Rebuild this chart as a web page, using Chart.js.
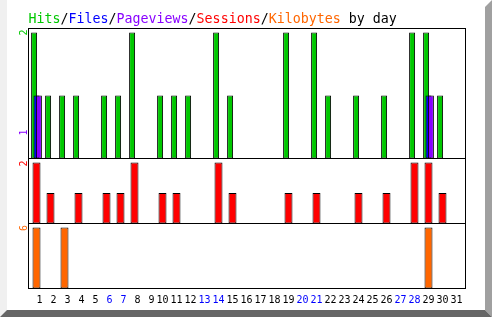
<!DOCTYPE html>
<html>
<head>
<meta charset="utf-8">
<script src="https://cdn.jsdelivr.net/npm/chart.js@4.4.1/dist/chart.umd.min.js"></script>
<style>
  html, body { margin: 0; padding: 0; background: #fff; }
  canvas { display: block; }
</style>
</head>
<body>
<canvas id="chart" width="492" height="317"></canvas>
<script>
const days = ['1','2','3','4','5','6','7','8','9','10','11','12','13','14','15','16',
              '17','18','19','20','21','22','23','24','25','26','27','28','29','30','31'];
const weekendDays = ['6','7','13','14','20','21','27','28'];

const hits      = [2,1,1,1,0,1,1,2,0,1,1,1,0,2,1,0,0,0,2,0,2,1,0,1,0,1,0,2,2,1,0];
const files     = [1,0,0,0,0,0,0,0,0,0,0,0,0,0,0,0,0,0,0,0,0,0,0,0,0,0,0,0,1,0,0];
const pageviews = [1,0,0,0,0,0,0,0,0,0,0,0,0,0,0,0,0,0,0,0,0,0,0,0,0,0,0,0,1,0,0];
const sessions  = [2,1,0,1,0,1,1,2,0,1,1,0,0,2,1,0,0,0,1,0,1,0,0,1,0,1,0,2,2,1,0];
const kilobytes = [6,0,6,0,0,0,0,0,0,0,0,0,0,0,0,0,0,0,0,0,0,0,0,0,0,0,0,0,6,0,0];

const GREEN = '#00c800';
const BLUE = '#0000ff';
const PURPLE = '#8800ff';
const RED = '#ff0000';
const ORANGE = '#ff6600';
const MONO = '"DejaVu Sans Mono", monospace';

// the grey bevel round the picture
const bevel = {
    id: 'bevel',
    beforeDraw(chart) {
        const {ctx, width, height} = chart;
        ctx.save();
        ctx.fillStyle = '#fff';
        ctx.fillRect(0, 0, width, height);
        ctx.fillStyle = '#f0f0f0';
        ctx.beginPath();
        ctx.moveTo(0, 0); ctx.lineTo(7, 0); ctx.lineTo(7, height - 7); ctx.lineTo(0, height);
        ctx.fill();
        ctx.fillStyle = '#a0a0a0';
        ctx.beginPath();
        ctx.moveTo(width - 7, 7); ctx.lineTo(width, 0); ctx.lineTo(width, height); ctx.lineTo(width - 7, height - 7);
        ctx.fill();
        ctx.fillStyle = '#666';
        ctx.beginPath();
        ctx.moveTo(0, height); ctx.lineTo(7, height - 7); ctx.lineTo(width - 7, height - 7); ctx.lineTo(width, height);
        ctx.fill();
        ctx.restore();
    }
};

// draw datasets first-to-last so the later bars sit on top
const drawOrder = {
    id: 'drawOrder',
    beforeDatasetsDraw(chart) {
        chart.data.datasets.forEach((ds, i) => {
            const meta = chart.getDatasetMeta(i);
            if (meta.visible) meta.controller.draw();
        });
        return false;
    }
};

const frame = {
    id: 'frame',
    afterDraw(chart) {
        const {ctx, chartArea: a, scales} = chart;
        const left = a.left - 1, right = a.right + 2;
        ctx.save();
        ctx.strokeStyle = '#000';
        ctx.lineWidth = 1;
        ctx.strokeRect(left, a.top, right - left, a.bottom - a.top);
        ctx.beginPath();
        [scales.yHits.bottom, scales.ySess.bottom].forEach(y => {
            ctx.moveTo(left, y); ctx.lineTo(right, y);
        });
        ctx.stroke();

        // rotated max labels
        ctx.font = '10px ' + MONO;
        ctx.textBaseline = 'alphabetic';
        const up = (text, color, y) => {
            ctx.save();
            ctx.translate(left - 2, y);
            ctx.rotate(-Math.PI / 2);
            ctx.fillStyle = color;
            ctx.fillText(text, 0, 0);
            ctx.restore();
        };
        up(String(Math.max(...hits)), GREEN, scales.yHits.top + 7);
        up(String(Math.max(...pageviews)), PURPLE, scales.yHits.bottom - 23);
        up(String(Math.max(...sessions)), RED, scales.ySess.top + 8);
        up(String(Math.max(...kilobytes)), ORANGE, scales.yKb.top + 7.5);

        // title
        const parts = [['Hits', GREEN], ['/', '#000'], ['Files', BLUE], ['/', '#000'],
                       ['Pageviews', PURPLE], ['/', '#000'], ['Sessions', RED], ['/', '#000'],
                       ['Kilobytes', ORANGE], [' by day', '#000']];
        ctx.font = '13.3px ' + MONO;
        let x = left;
        parts.forEach(([t, c]) => {
            ctx.fillStyle = c;
            ctx.fillText(t, x, 22.5);
            x += ctx.measureText(t).width;
        });
        ctx.restore();
    }
};

// headroom: a little space above the tallest bar of each panel
const hiddenY = (weight, headroom) => ({
    stack: 'panels',
    stackWeight: weight,
    beginAtZero: true,
    bounds: 'data',
    afterDataLimits: s => { s.max *= headroom; },
    grid: { display: false },
    border: { display: false },
    ticks: { display: false },
    afterFit: s => { s.width = 0; }
});

const groupBar = { categoryPercentage: 0.514, barPercentage: 2.5, borderWidth: 1,
                   borderColor: '#000', borderSkipped: false, yAxisID: 'yHits' };
const soloBar = { grouped: false, categoryPercentage: 1, barPercentage: 0.57, borderWidth: 1,
                  borderColor: '#000', borderSkipped: false };

new Chart(document.getElementById('chart'), {
    type: 'bar',
    data: {
        labels: days,
        datasets: [
            { ...groupBar, label: 'Hits', data: hits, backgroundColor: GREEN },
            { ...groupBar, label: 'Files', data: files, backgroundColor: BLUE },
            { ...groupBar, label: 'Pageviews', data: pageviews, backgroundColor: PURPLE },
            { ...soloBar, label: 'Sessions', data: sessions, backgroundColor: RED, yAxisID: 'ySess' },
            { ...soloBar, label: 'Kilobytes', data: kilobytes, backgroundColor: ORANGE, yAxisID: 'yKb' }
        ]
    },
    options: {
        responsive: false,
        animation: false,
        devicePixelRatio: 1,
        layout: { padding: { top: 28.5, left: 29.5, right: 28.5, bottom: 0 } },
        plugins: {
            legend: { display: false },
            tooltip: { enabled: false }
        },
        scales: {
            x: {
                grid: { display: false, drawTicks: false },
                border: { display: false },
                ticks: {
                    autoSkip: false,
                    maxRotation: 0,
                    padding: 6,
                    font: { family: MONO, size: 10 },
                    // day numbers are right-aligned in a two character cell
                    callback: (v, i) => days[i].padStart(2, ' '),
                    color: ctx => weekendDays.includes(days[ctx.index]) ? BLUE : '#000'
                },
                afterFit: s => { s.height = 28.5; }
            },
            // stacked scales are laid out bottom-up
            yKb: hiddenY(1, 1.065),
            ySess: hiddenY(1, 1.065),
            yHits: hiddenY(2, 1.0325)
        }
    },
    plugins: [bevel, drawOrder, frame]
});
</script>
</body>
</html>
